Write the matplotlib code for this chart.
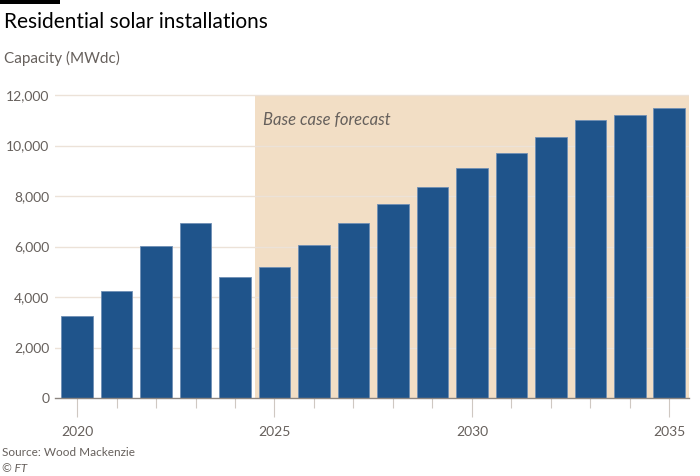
import matplotlib
matplotlib.use("Agg")
import matplotlib.pyplot as plt
from matplotlib.patches import Rectangle

years = list(range(2020, 2036))
capacity = [3250, 4250, 6020, 6920, 4780, 5200, 6060, 6930, 7700, 8370,
            9100, 9700, 10350, 11000, 11200, 11480]
yticks = [0, 2000, 4000, 6000, 8000, 10000, 12000]
ytick_labels = ["0", "2,000", "4,000", "6,000", "8,000", "10,000", "12,000"]
xtick_major = [2020, 2025, 2030, 2035]
forecast_start = 2024.5
forecast_end = 2035.5

plt.rcParams['font.family'] = ['Lato', 'DejaVu Sans']
grey = '#66605c'

W, H = 700, 476
fig = plt.figure(figsize=(7, 4.76), dpi=100)
fig.patch.set_facecolor('white')

left_px, right_px, bottom_px, top_px = 55, 689, 398, 90
ax = fig.add_axes([left_px / W, 1 - bottom_px / H, (right_px - left_px) / W, (bottom_px - top_px) / H])
ax.set_xlim(2019.44, 2035.5)
ax.set_ylim(0, 12200)

ax.fill_between([forecast_start, forecast_end], 0, 12000, color='#f2dec5', lw=0, zorder=0)
for y in yticks[1:]:
    ax.axhline(y, color='#ece2d8', lw=1, zorder=1)

ax.bar(years, capacity, width=0.8, color='#1f548b', edgecolor='#6f8fb5', linewidth=0.6, zorder=3)

ax.text(2024.72, 11000, "Base case forecast", style='italic', color=grey, fontsize=12, va='center', ha='left', zorder=4)

for s in ['top', 'right', 'left']:
    ax.spines[s].set_visible(False)
ax.spines['bottom'].set_color('#8c8580')
ax.spines['bottom'].set_linewidth(1)
ax.spines['bottom'].set_zorder(5)

ax.set_yticks(yticks)
ax.set_yticklabels(ytick_labels)
ax.tick_params(axis='y', length=0, pad=4, labelsize=10, labelcolor=grey)

ax.set_xticks(xtick_major)
ax.set_xticklabels([str(x) for x in xtick_major])
ax.set_xticks(years, minor=True)
ax.tick_params(axis='x', which='major', length=14, width=0.8, color='#cfc8c2', pad=6, labelsize=10, labelcolor=grey)
ax.tick_params(axis='x', which='minor', length=7, width=0.8, color='#cfc8c2')

fig.add_artist(Rectangle((0, 1 - 4 / H), 60 / W, 4 / H, transform=fig.transFigure, color='black', lw=0))
fig.text(4 / W, 1 - 22 / H, "Residential solar installations", fontsize=15, color='black', va='center', ha='left')
fig.text(4 / W, 1 - 58 / H, "Capacity (MWdc)", fontsize=11, color=grey, va='center', ha='left')
fig.text(2 / W, 1 - 452 / H, "Source: Wood Mackenzie", fontsize=8.5, color=grey, va='center', ha='left')
fig.text(2 / W, 1 - 468 / H, "© FT", fontsize=8.5, color=grey, style='italic', va='center', ha='left')

fig.savefig("out.png", dpi=100)
